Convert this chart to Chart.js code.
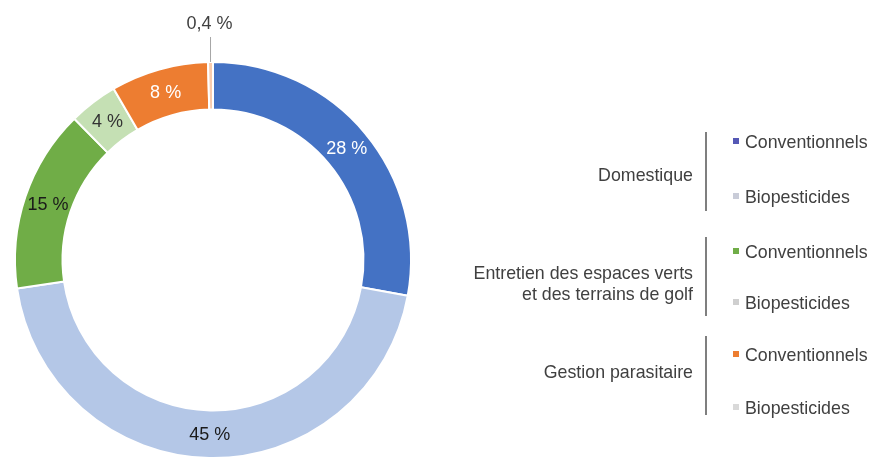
<!DOCTYPE html>
<html>
<head>
<meta charset="utf-8">
<script src="https://cdn.jsdelivr.net/npm/chart.js@4/dist/chart.umd.min.js"></script>
<style>
  html, body { margin: 0; padding: 0; width: 873px; height: 458px; overflow: hidden; background: #fff; font-family: "Liberation Sans", Arial, sans-serif; }
  #wrap { position: absolute; left: 0; top: 0; width: 426px; height: 520px; }
  #legend { position: absolute; left: 0; top: 0; width: 873px; height: 458px; color: #404040; font-size: 17.8px; }
  .grp { position: absolute; right: 180px; text-align: right; line-height: 20px; white-space: nowrap; }
  .vline { position: absolute; left: 705px; width: 1.5px; background: #7f7f7f; }
  .item { position: absolute; left: 733px; white-space: nowrap; line-height: 20px; }
  .mk { display: inline-block; width: 6px; height: 6px; margin-right: 6px; vertical-align: 4px; }
</style>
</head>
<body>
<div id="wrap"><canvas id="c"></canvas></div>
<div id="legend"></div>
<script>
// ---- Data ----
const groups = ['Domestique', 'Entretien des espaces verts|et des terrains de golf', 'Gestion parasitaire'];
const types = ['Conventionnels', 'Biopesticides'];
const categories = ['Domestique – Conventionnels', 'Domestique – Biopesticides',
  'Entretien des espaces verts et des terrains de golf – Conventionnels', 'Entretien des espaces verts et des terrains de golf – Biopesticides',
  'Gestion parasitaire – Conventionnels', 'Gestion parasitaire – Biopesticides'];
const values = [28, 45, 15, 4, 8, 0.4];

// ---- Styles ----
const colors = ['#4472C4', '#B4C7E7', '#70AD47', '#C5E0B4', '#ED7D31', '#F8CBAD'];
const labelColors = ['#ffffff', '#1a1a1a', '#1a1a1a', '#333333', '#ffffff', '#404040'];
const markerColors = ['#5558B5', '#C9CCD8', '#70AD47', '#CFCFCF', '#ED7D31', '#D9D9D9'];

const fmt = v => String(v).replace('.', ',') + ' %';

const labelPlugin = {
  id: 'sliceLabels',
  afterDatasetsDraw(chart) {
    const ctx = chart.ctx;
    const meta = chart.getDatasetMeta(0);
    ctx.save();
    ctx.font = '18px "Liberation Sans", Arial, sans-serif';
    ctx.textAlign = 'center';
    ctx.textBaseline = 'middle';
    meta.data.forEach((arc, i) => {
      const v = values[i];
      if (v < 1) {
        const a = (arc.startAngle + arc.endAngle) / 2;
        const px = arc.x + arc.outerRadius * Math.cos(a);
        const py = arc.y + arc.outerRadius * Math.sin(a);
        ctx.strokeStyle = '#a6a6a6';
        ctx.lineWidth = 1;
        ctx.beginPath();
        ctx.moveTo(px, py);
        ctx.lineTo(px, py - 25);
        ctx.stroke();
        ctx.fillStyle = labelColors[i];
        ctx.fillText(fmt(v), px - 1, py - 38);
      } else {
        const p = arc.tooltipPosition();
        ctx.fillStyle = labelColors[i];
        ctx.fillText(fmt(v), p.x, p.y + 1);
      }
    });
    ctx.restore();
  }
};

new Chart(document.getElementById('c'), {
  type: 'doughnut',
  data: {
    labels: categories,
    datasets: [{
      data: values,
      backgroundColor: colors,
      borderColor: '#ffffff',
      borderWidth: 2
    }]
  },
  options: {
    responsive: true,
    maintainAspectRatio: false,
    animation: false,
    cutout: '76%',
    layout: { padding: { top: 61, left: 14, right: 14, bottom: 61 } },
    plugins: { legend: { display: false }, tooltip: { enabled: false } }
  },
  plugins: [labelPlugin]
});

// ---- Grouped legend (HTML text) ----
const legend = document.getElementById('legend');
const groupTops = [132, 237, 336];
const groupLabelY = [[175], [273, 294], [372]];
const itemY = [[142, 197], [252, 303], [355, 408]];
groups.forEach((g, gi) => {
  const lines = g.split('|');
  lines.forEach((ln, li) => {
    const d = document.createElement('div');
    d.className = 'grp';
    d.textContent = ln;
    d.style.top = (groupLabelY[gi][li] - 10) + 'px';
    legend.appendChild(d);
  });
  const vl = document.createElement('div');
  vl.className = 'vline';
  vl.style.top = groupTops[gi] + 'px';
  vl.style.height = '79px';
  legend.appendChild(vl);
  types.forEach((t, ti) => {
    const idx = gi * 2 + ti;
    const it = document.createElement('div');
    it.className = 'item';
    it.style.top = (itemY[gi][ti] - 10) + 'px';
    const mk = document.createElement('span');
    mk.className = 'mk';
    mk.style.background = markerColors[idx];
    it.appendChild(mk);
    it.appendChild(document.createTextNode(t));
    legend.appendChild(it);
  });
});
</script>
</body>
</html>
